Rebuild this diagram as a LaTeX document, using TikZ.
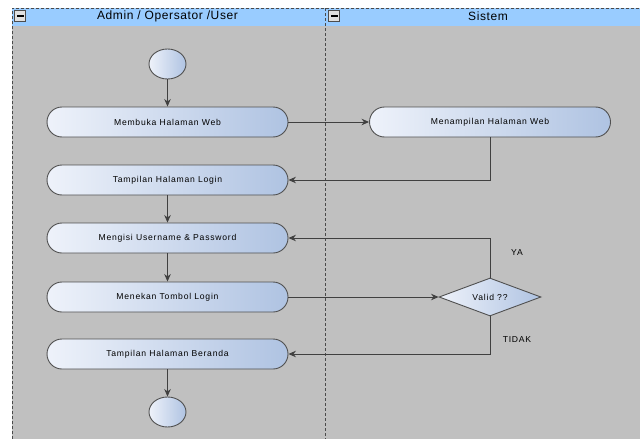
\documentclass[tikz,border=0pt]{standalone}
\usepackage{fontspec}
\setmainfont{Liberation Sans}
\newfontfamily\nodefont[LetterSpace=9]{Liberation Sans}
\newfontfamily\hdrfont[LetterSpace=5]{Liberation Sans}
\usetikzlibrary{shapes.geometric,arrows.meta}
\definecolor{bgray}{HTML}{C0C0C0}
\definecolor{hblue}{HTML}{99CCFF}
\definecolor{gleft}{HTML}{EEF2FA}
\definecolor{gright}{HTML}{AFC3E2}
\definecolor{edge}{HTML}{505050}
\definecolor{lane}{HTML}{4A4A4A}
\tikzset{
  act/.style={rectangle, rounded corners=15pt, minimum width=241pt, minimum height=30pt,
    inner sep=0pt, draw=edge, line width=0.9pt, left color=gleft, right color=gright,
    font=\nodefont\fontsize{8.6}{10}\selectfont, text=black},
  circ/.style={ellipse, minimum width=37pt, minimum height=30pt, inner sep=0pt,
    draw=edge, line width=0.9pt, left color=gleft, right color=gright},
  dia/.style={diamond, aspect=2.68, minimum width=102pt, minimum height=38pt, inner sep=0pt,
    draw=edge, line width=0.9pt, left color=gleft, right color=gright,
    font=\nodefont\fontsize{8.6}{10}\selectfont, text=black},
  lbl/.style={font=\nodefont\fontsize{8.6}{10}\selectfont, text=black, inner sep=0pt},
  hdr/.style={font=\hdrfont\fontsize{12}{13}\selectfont, text=black, inner sep=0pt},
  arr/.style={draw=black!75, line width=0.9pt, -{Stealth[length=7.5pt,width=6.5pt]}},
  lanebd/.style={draw=lane, line width=0.8pt, dash pattern=on 3pt off 2pt},
  minusbox/.style={rectangle, minimum width=11pt, minimum height=11pt, inner sep=0pt,
    draw=black!70, fill=black!12, line width=0.7pt},
}
\begin{document}
\begin{tikzpicture}[x=1pt,y=-1pt]
\useasboundingbox (0,0) rectangle (640,439);
\fill[bgray] (12,8) rectangle (640,439);
\fill[hblue] (12,8) rectangle (640,26);
\draw[lanebd] (12,439) -- (12,8) -- (640,8);
\draw[lanebd] (325,8) -- (325,439);
% header icons
\node[minusbox] (m1) at (20,16) {};
\fill[black] (16.5,15) rectangle (23.5,17.2);
\node[minusbox] (m2) at (334,16) {};
\fill[black] (330.5,15) rectangle (337.5,17.2);
\node[hdr] (h1) at (167.5,16.5) {Admin / Opersator /User};
\node[hdr] (h2) at (488,16.5) {Sistem};
% nodes
\node[circ] (s) at (167.5,64) {};
\node[act] (n1) at (167.5,122) {Membuka Halaman Web};
\node[act] (n2) at (490,122) {Menampilan Halaman Web};
\node[act] (n3) at (167.5,180) {Tampilan Halaman Login};
\node[act] (n4) at (167.5,238) {Mengisi Username \& Password};
\node[act] (n5) at (167.5,297) {Menekan Tombol Login};
\node[act] (n6) at (167.5,354) {Tampilan Halaman Beranda};
\node[circ] (e) at (167.5,412) {};
\node[dia] (d) at (490,297) {Valid ??};
\node[lbl] (ya) at (517,252.5) {YA};
\node[lbl] (tidak) at (517,340) {TIDAK};
% connectors
\draw[arr] (s) -- (n1);
\draw[arr] (n1) -- (n2);
\draw[arr] (n2.south) |- (n3.east);
\draw[arr] (n3) -- (n4);
\draw[arr] (n4) -- (n5);
\draw[arr] (n5.east) -- (d.west);
\draw[arr] (d.north) |- (n4.east);
\draw[arr] (d.south) |- (n6.east);
\draw[arr] (n6) -- (e);
\end{tikzpicture}
\end{document}
